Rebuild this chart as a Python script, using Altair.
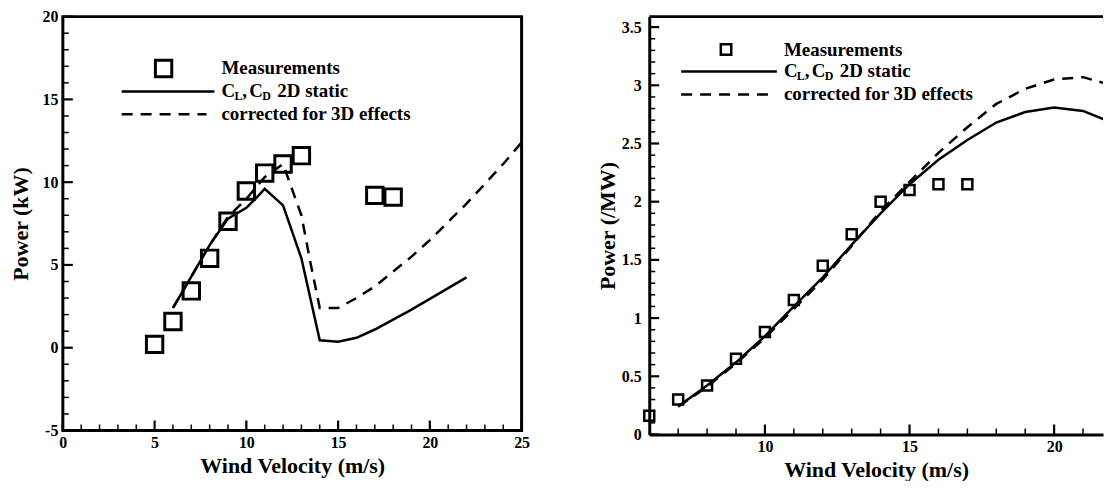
import altair as alt
import pandas as pd

FONT = "Liberation Serif"

# ---------------- left panel (kW) ----------------
left_meas_v = [5, 6, 7, 8, 9, 10, 11, 12, 13, 17, 18]
left_meas_p = [0.2, 1.58, 3.43, 5.4, 7.64, 9.47, 10.55, 11.1, 11.6, 9.2, 9.1]

left_2d_v = [6, 7, 8, 9, 10, 10.5, 11, 12, 13, 14, 15, 16, 17, 18, 19, 20, 21, 22]
left_2d_p = [2.4, 4.3, 6.2, 7.8, 8.45, 9.0, 9.6, 8.6, 5.4, 0.45, 0.36, 0.6, 1.1, 1.7, 2.3, 2.95, 3.6, 4.25]

left_3d_v = [6, 7, 8, 9, 10, 11, 12, 13, 13.5, 14, 15, 16, 17, 18, 19, 20, 21, 22, 23, 24, 25]
left_3d_p = [2.4, 4.3, 6.2, 7.9, 9.0, 10.3, 11.1, 8.0, 5.1, 2.4, 2.4, 3.0, 3.7, 4.6, 5.5, 6.5, 7.6, 8.7, 9.9, 11.1, 12.4]

left_xticks = [0, 5, 10, 15, 20, 25]
left_yticks = [-5, 0, 5, 10, 15, 20]
left_xminor = [v for v in range(1, 25) if v % 5 != 0]
left_yminor = [v for v in range(-4, 20) if v % 5 != 0]

# ---------------- right panel (MW) ----------------
right_meas_v = [6, 7, 8, 9, 10, 11, 12, 13, 14, 15, 16, 17]
right_meas_p = [0.16, 0.30, 0.42, 0.65, 0.88, 1.155, 1.45, 1.72, 2.0, 2.1, 2.15, 2.15]

right_2d_v = [7, 8, 9, 10, 11, 12, 13, 14, 15, 16, 17, 18, 19, 20, 21, 22]
right_2d_p = [0.24, 0.42, 0.62, 0.845, 1.1, 1.35, 1.63, 1.9, 2.15, 2.36, 2.53, 2.68, 2.77, 2.81, 2.78, 2.68]

right_3d_v = [7, 8, 9, 10, 11, 12, 13, 14, 15, 16, 17, 18, 19, 20, 21, 22]
right_3d_p = [0.24, 0.41, 0.61, 0.83, 1.08, 1.33, 1.62, 1.92, 2.17, 2.42, 2.64, 2.84, 2.97, 3.05, 3.07, 3.0]

right_xticks = [10, 15, 20]
right_yticks = [0, 0.5, 1, 1.5, 2, 2.5, 3, 3.5]
right_xminor = [v for v in range(7, 22) if v % 5 != 0]
right_yminor = [round(i / 10, 1) for i in range(1, 36) if i % 5 != 0]

legend_labels = ["Measurements", "2D static", "corrected for 3D effects"]

DASH = [11, 8]
ONE = pd.DataFrame({"k": [0]})
PAD = {"left": 0, "top": -2, "right": 0, "bottom": 0}


def df(v, p):
    return pd.DataFrame({"v": v, "p": p})


def legend_layers(sq_x, rows, lx0, lx1, tx, sq_size, sq_sw):
    layers = [
        alt.Chart(ONE).mark_point(shape="square", filled=False, color="black", opacity=1,
                                  size=sq_size, strokeWidth=sq_sw)
        .encode(x=alt.value(sq_x), y=alt.value(rows[0])),
        alt.Chart(ONE).mark_rule(color="black", strokeWidth=2.5)
        .encode(x=alt.value(lx0), x2=alt.value(lx1), y=alt.value(rows[1])),
        alt.Chart(ONE).mark_rule(color="black", strokeWidth=2.5, strokeDash=DASH)
        .encode(x=alt.value(lx0), x2=alt.value(lx1 - 8), y=alt.value(rows[2])),
    ]
    segs = [
        (legend_labels[0], 0, rows[0], 19),
        ("C", 0, rows[1], 19),
        ("L", 13, rows[1] + 5, 12),
        (",", 21, rows[1], 19),
        ("C", 28, rows[1], 19),
        ("D", 41, rows[1] + 5, 12),
        (legend_labels[1], 56, rows[1], 19),
        (legend_labels[2], 0, rows[2], 19),
    ]
    for txt, dx, yy, fs in segs:
        layers.append(
            alt.Chart(ONE).mark_text(text=txt, align="left", baseline="middle", font=FONT,
                                     fontWeight="bold", fontSize=fs, color="black")
            .encode(x=alt.value(tx + dx), y=alt.value(yy))
        )
    return layers


def panel(meas, s2d, s3d, xdom, ydom, W, H, xt, yt, xm, ym, ytitle, ylabpad,
          sq_size, sq_sw, leg, right_style):
    xaxis = alt.Axis(values=xt, title="Wind Velocity (m/s)", labelFlush=False, labelPadding=4,
                     titlePadding=5, labelExpr="'' + datum.value",
                     domain=right_style, domainWidth=3, domainColor="black")
    yaxis = alt.Axis(values=yt, title=ytitle, labelPadding=ylabpad, minExtent=20, maxExtent=20,
                     titlePadding=10, labelExpr="'' + datum.value",
                     domain=right_style, domainWidth=3, domainColor="black")
    X = alt.X("v:Q", scale=alt.Scale(domain=xdom, nice=False, zero=False), axis=xaxis)
    Y = alt.Y("p:Q", scale=alt.Scale(domain=ydom, nice=False, zero=False), axis=yaxis)

    layers = [
        alt.Chart(meas).mark_point(shape="square", filled=False, color="black", opacity=1,
                                   size=sq_size, strokeWidth=sq_sw).encode(x=X, y=Y),
        alt.Chart(s2d).mark_line(color="black", strokeWidth=2.5, clip=True).encode(x=X, y=Y),
        alt.Chart(s3d).mark_line(color="black", strokeWidth=2.5, strokeDash=DASH, clip=True)
        .encode(x=X, y=Y),
        alt.Chart(pd.DataFrame({"v": xt})).mark_rule(color="black", strokeWidth=2.2)
        .encode(x=X, y=alt.value(H), y2=alt.value(H - 10)),
        alt.Chart(pd.DataFrame({"v": xm})).mark_rule(color="black", strokeWidth=1.5)
        .encode(x=X, y=alt.value(H), y2=alt.value(H - 6)),
        alt.Chart(pd.DataFrame({"p": yt})).mark_rule(color="black", strokeWidth=2.2)
        .encode(y=Y, x=alt.value(0), x2=alt.value(10)),
        alt.Chart(pd.DataFrame({"p": ym})).mark_rule(color="black", strokeWidth=1.5)
        .encode(y=Y, x=alt.value(0), x2=alt.value(6)),
    ]
    if right_style:
        layers.append(
            alt.Chart(ONE).mark_rule(color="black", strokeWidth=3)
            .encode(x=alt.value(0), x2=alt.value(W), y=alt.value(0))
        )
    layers += legend_layers(**leg, sq_size=sq_size if not right_style else 110, sq_sw=sq_sw)
    ch = alt.layer(*layers).properties(width=W, height=H)
    if right_style:
        ch = ch.properties(view=alt.ViewBackground(stroke=None))
    else:
        ch = ch.properties(view=alt.ViewBackground(stroke="black", strokeWidth=3))
    return ch


left = panel(df(left_meas_v, left_meas_p), df(left_2d_v, left_2d_p), df(left_3d_v, left_3d_p),
             [0, 25], [-5, 20], 460, 415, left_xticks, left_yticks, left_xminor, left_yminor,
             "Power (kW)", 5, 270, 3,
             dict(sq_x=101, rows=[52, 75, 98], lx0=59, lx1=152, tx=159), False)

right = panel(df(right_meas_v, right_meas_p), df(right_2d_v, right_2d_p), df(right_3d_v, right_3d_p),
              [6, 21.69], [0, 3.59], 455, 419, right_xticks, right_yticks, right_xminor, right_yminor,
              "Power (/MW)", 8, 100, 2.5,
              dict(sq_x=77, rows=[33, 55, 78], lx0=32, lx1=128, tx=135), True)

chart = (
    alt.hconcat(left, right, spacing=65, bounds="full")
    .properties(padding=PAD)
    .configure_view(stroke=None)
    .configure_axis(labelFont=FONT, labelFontSize=16, labelFontWeight="bold", labelColor="black",
                    titleFont=FONT, titleFontSize=22, titleFontWeight="bold", titleColor="black",
                    grid=False, ticks=False, tickSize=0)
)

chart.save("out.html", embed_options={"renderer": "svg", "actions": False})
